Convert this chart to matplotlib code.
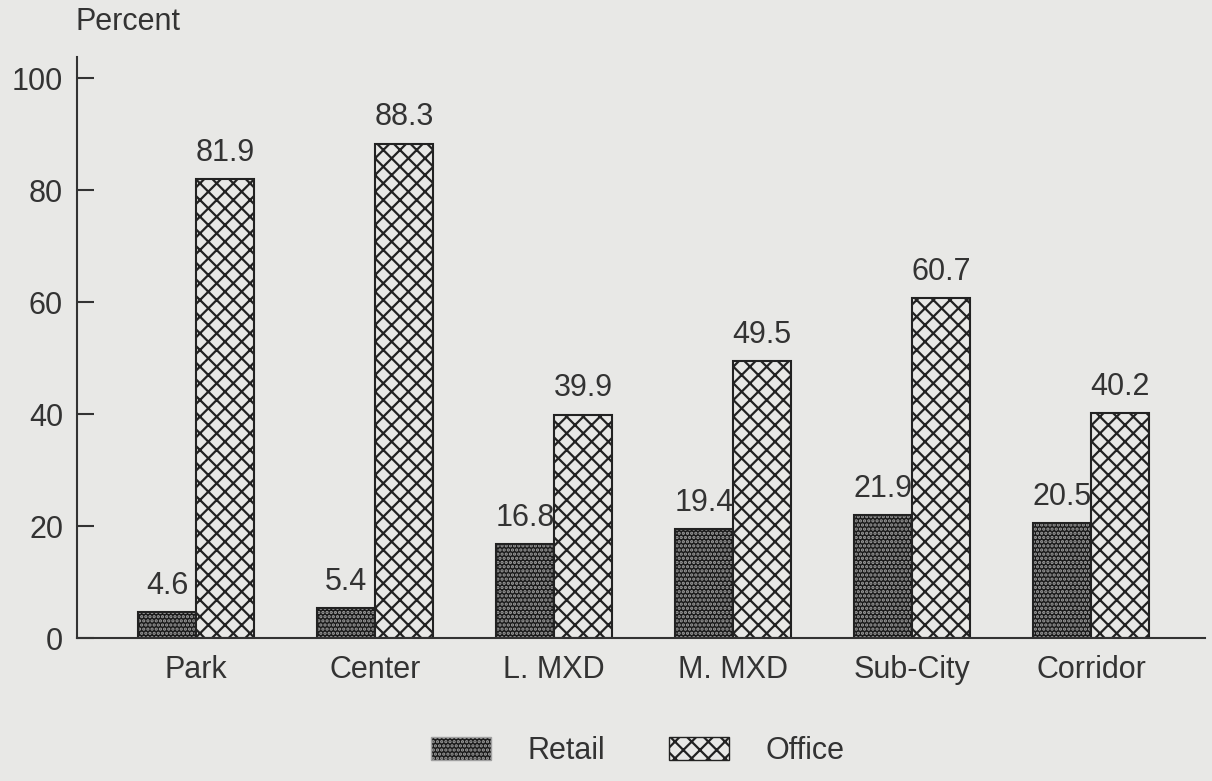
import numpy as np
import matplotlib.pyplot as plt
from matplotlib.patches import Patch

categories = ['Park', 'Center', 'L. MXD', 'M. MXD', 'Sub-City', 'Corridor']
retail = [4.6, 5.4, 16.8, 19.4, 21.9, 20.5]
office = [81.9, 88.3, 39.9, 49.5, 60.7, 40.2]
yticks = [0, 20, 40, 60, 80, 100]

bg = '#e8e8e6'
ink = '#333333'
plt.rcParams['font.family'] = ['Liberation Sans', 'DejaVu Sans']
plt.rcParams['hatch.linewidth'] = 1.6
fs = 22

fig = plt.figure(figsize=(12.12, 7.81), dpi=100, facecolor=bg)
ax = fig.add_axes([77/1212, (781-638)/781, (1205-77)/1212, (638-57)/781])
ax.set_facecolor(bg)

x = np.arange(len(categories))
w = 0.324

# retail: dark fill with light dots
ax.bar(x - w/2, retail, w, color='#1a1a1a', edgecolor='#a0a0a0', hatch='....', linewidth=0)
ax.bar(x - w/2, retail, w, fill=False, edgecolor='#222222', linewidth=1.5)
# office: cross hatch
ax.bar(x + w/2, office, w, color=bg, edgecolor='#222222', hatch='xx', linewidth=1.5)

for xi, v in zip(x - w/2, retail):
    ax.annotate(f'{v}', (xi, v), xytext=(0, 8), textcoords='offset points',
                ha='center', va='bottom', fontsize=fs, color=ink)
for xi, v in zip(x + w/2, office):
    ax.annotate(f'{v}', (xi, v), xytext=(0, 8), textcoords='offset points',
                ha='center', va='bottom', fontsize=fs, color=ink)

ax.set_xlim((77-196)/179, (1205-196)/179)
ax.set_ylim(0, (638-57)/5.6)
ax.set_yticks(yticks)
ax.set_yticklabels([str(t) for t in yticks], fontsize=fs, color=ink)
ax.tick_params(axis='y', direction='in', length=12, width=1.5, color=ink, pad=10)
ax.set_xticks(x)
ax.set_xticklabels(categories, fontsize=fs, color=ink)
ax.tick_params(axis='x', length=0, pad=12)
for s in ['top', 'right']:
    ax.spines[s].set_visible(False)
for s in ['left', 'bottom']:
    ax.spines[s].set_color(ink)
    ax.spines[s].set_linewidth(1.5)

fig.text(75/1212, 1 - 22/781, 'Percent', fontsize=fs, color=ink, va='center', ha='left')

# legend
h1 = Patch(facecolor='#1a1a1a', edgecolor='#a0a0a0', hatch='....', label='Retail')
h2 = Patch(facecolor=bg, edgecolor='#222222', hatch='xx', label='Office')
fig.legend(handles=[h1, h2], loc='center', bbox_to_anchor=(638/1212, 1 - 751/781),
           ncol=2, frameon=False, fontsize=fs, handlelength=1.96, handleheight=0.8,
           columnspacing=2.1, handletextpad=1.2, labelcolor=ink)

fig.savefig('out.png', dpi=100, facecolor=bg)
